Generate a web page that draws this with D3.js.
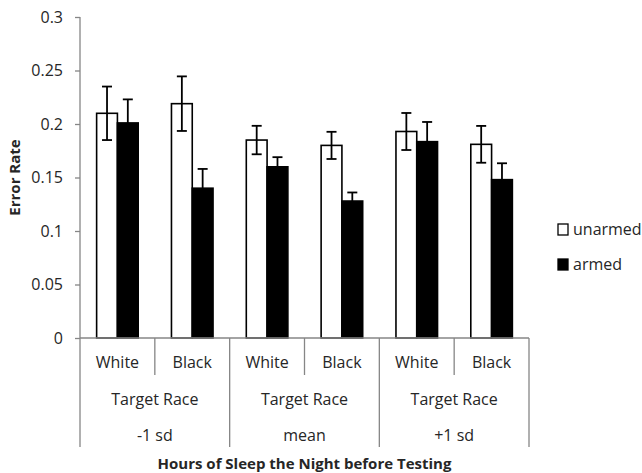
<!DOCTYPE html>
<html>
<head>
<meta charset="utf-8">
<script src="https://cdn.jsdelivr.net/npm/d3@7"></script>
<style>
  body { margin: 0; background: #fff; }
  text { font-family: "Open Sans", sans-serif; fill: #262626; }
</style>
</head>
<body>
<div id="chart"></div>
<script>
// data
const sleepLevels = ["-1 sd", "mean", "+1 sd"];
const races = ["White", "Black"];
const series = ["unarmed", "armed"];
const unarmedMean = [0.210, 0.219, 0.185, 0.180, 0.193, 0.181];
const unarmedErr = [0.025, 0.0255, 0.0133, 0.0127, 0.0173, 0.0172];
const armedMean = [0.201, 0.140, 0.160, 0.128, 0.1835, 0.148];
const armedErr = [0.022, 0.018, 0.009, 0.008, 0.0184, 0.0153];
const yTicks = [0, 0.05, 0.1, 0.15, 0.2, 0.25, 0.3];

const width = 642;
const height = 473;
const marginLeft = 80;
const plotRight = 529;
const plotTop = 17;
const plotBottom = 338;

const cats = [];
sleepLevels.forEach(s => races.forEach(r => cats.push(s + "|" + r)));

const rows = cats.map((c, i) => ({
  cat: c,
  values: [
    { key: "unarmed", v: unarmedMean[i], e: unarmedErr[i] },
    { key: "armed", v: armedMean[i], e: armedErr[i] }
  ]
}));

const x = d3.scaleBand().domain(cats).range([marginLeft, plotRight]);
const xs = d3.scaleBand().domain(series).range([0, x.bandwidth()]).paddingOuter(0.8);
const y = d3.scaleLinear().domain([0, 0.3]).range([plotBottom, plotTop]);
const grp = d3.scaleBand().domain(sleepLevels).range([marginLeft, plotRight]);

const svg = d3.create("svg")
  .attr("width", width)
  .attr("height", height);

const axisColor = "#868686";

// y axis
const yAxis = svg.append("g")
  .attr("transform", `translate(${marginLeft},0)`)
  .call(d3.axisLeft(y).tickValues(yTicks).tickSize(5).tickPadding(12)
    .tickFormat(d => d === 0 ? "0" : String(+d.toFixed(2))));
yAxis.select(".domain").remove();
yAxis.selectAll(".tick line").attr("stroke", axisColor).attr("stroke-width", 1.3);
yAxis.selectAll(".tick text")
  .attr("font-size", 16)
  .attr("font-family", "Open Sans, sans-serif")
  .attr("fill", "#262626");

// left vertical line (axis + category bracket)
svg.append("line")
  .attr("x1", marginLeft).attr("x2", marginLeft)
  .attr("y1", plotTop).attr("y2", 447)
  .attr("stroke", axisColor).attr("stroke-width", 1.3);

// bars
const g = svg.append("g").selectAll("g")
  .data(rows)
  .join("g")
  .attr("transform", d => `translate(${x(d.cat)},0)`);

g.selectAll("rect")
  .data(d => d.values)
  .join("rect")
  .attr("x", d => xs(d.key))
  .attr("y", d => y(d.v))
  .attr("width", xs.bandwidth())
  .attr("height", d => y(0) - y(d.v))
  .attr("fill", d => d.key === "armed" ? "#000" : "#fff")
  .attr("stroke", "#000")
  .attr("stroke-width", 1.6);

// error bars
const eb = g.selectAll("g.err")
  .data(d => d.values)
  .join("g")
  .attr("class", "err")
  .attr("stroke", "#000")
  .attr("stroke-width", 1.8);
eb.append("line")
  .attr("x1", d => xs(d.key) + xs.bandwidth() / 2)
  .attr("x2", d => xs(d.key) + xs.bandwidth() / 2)
  .attr("y1", d => y(d.v + d.e))
  .attr("y2", d => y(d.v - d.e));
eb.append("line")
  .attr("x1", d => xs(d.key) + xs.bandwidth() / 2 - 5)
  .attr("x2", d => xs(d.key) + xs.bandwidth() / 2 + 5)
  .attr("y1", d => y(d.v + d.e))
  .attr("y2", d => y(d.v + d.e));
eb.append("line")
  .attr("x1", d => xs(d.key) + xs.bandwidth() / 2 - 5)
  .attr("x2", d => xs(d.key) + xs.bandwidth() / 2 + 5)
  .attr("y1", d => y(d.v - d.e))
  .attr("y2", d => y(d.v - d.e));

// x axis line
svg.append("line")
  .attr("x1", marginLeft).attr("x2", plotRight)
  .attr("y1", plotBottom).attr("y2", plotBottom)
  .attr("stroke", axisColor).attr("stroke-width", 1.3);

// separators: short between races, long between sleep groups
cats.forEach((c, i) => {
  if (i === 0) return;
  const long = i % 2 === 0;
  svg.append("line")
    .attr("x1", x(c)).attr("x2", x(c))
    .attr("y1", plotBottom).attr("y2", long ? 447 : 375)
    .attr("stroke", axisColor).attr("stroke-width", 1.3);
});
svg.append("line")
  .attr("x1", plotRight).attr("x2", plotRight)
  .attr("y1", plotBottom).attr("y2", 447)
  .attr("stroke", axisColor).attr("stroke-width", 1.3);

// category labels
svg.append("g").selectAll("text")
  .data(cats)
  .join("text")
  .attr("x", d => x(d) + x.bandwidth() / 2)
  .attr("y", 368)
  .attr("text-anchor", "middle")
  .attr("font-size", 16)
  .text(d => d.split("|")[1]);

svg.append("g").selectAll("text")
  .data(sleepLevels)
  .join("text")
  .attr("x", d => grp(d) + grp.bandwidth() / 2)
  .attr("y", 405)
  .attr("text-anchor", "middle")
  .attr("font-size", 16)
  .text("Target Race");

svg.append("g").selectAll("text")
  .data(sleepLevels)
  .join("text")
  .attr("x", d => grp(d) + grp.bandwidth() / 2)
  .attr("y", 441)
  .attr("text-anchor", "middle")
  .attr("font-size", 16)
  .text(d => d);

// axis titles
svg.append("text")
  .attr("x", (marginLeft + plotRight) / 2)
  .attr("y", 469)
  .attr("text-anchor", "middle")
  .attr("font-size", 15)
  .attr("font-weight", "bold")
  .text("Hours of Sleep the Night before Testing");

svg.append("text")
  .attr("transform", `translate(20,${(plotTop + plotBottom) / 2}) rotate(-90)`)
  .attr("text-anchor", "middle")
  .attr("font-size", 15)
  .attr("font-weight", "bold")
  .text("Error Rate");

// legend
const legend = svg.append("g").selectAll("g")
  .data(series)
  .join("g")
  .attr("transform", (d, i) => `translate(558,${224 + i * 35})`);
legend.append("rect")
  .attr("width", 10).attr("height", 11)
  .attr("fill", d => d === "armed" ? "#000" : "#fff")
  .attr("stroke", "#000")
  .attr("stroke-width", 1.3);
legend.append("text")
  .attr("x", 15)
  .attr("y", 11)
  .attr("font-size", 16)
  .text(d => d);

document.getElementById("chart").appendChild(svg.node());
</script>
</body>
</html>
